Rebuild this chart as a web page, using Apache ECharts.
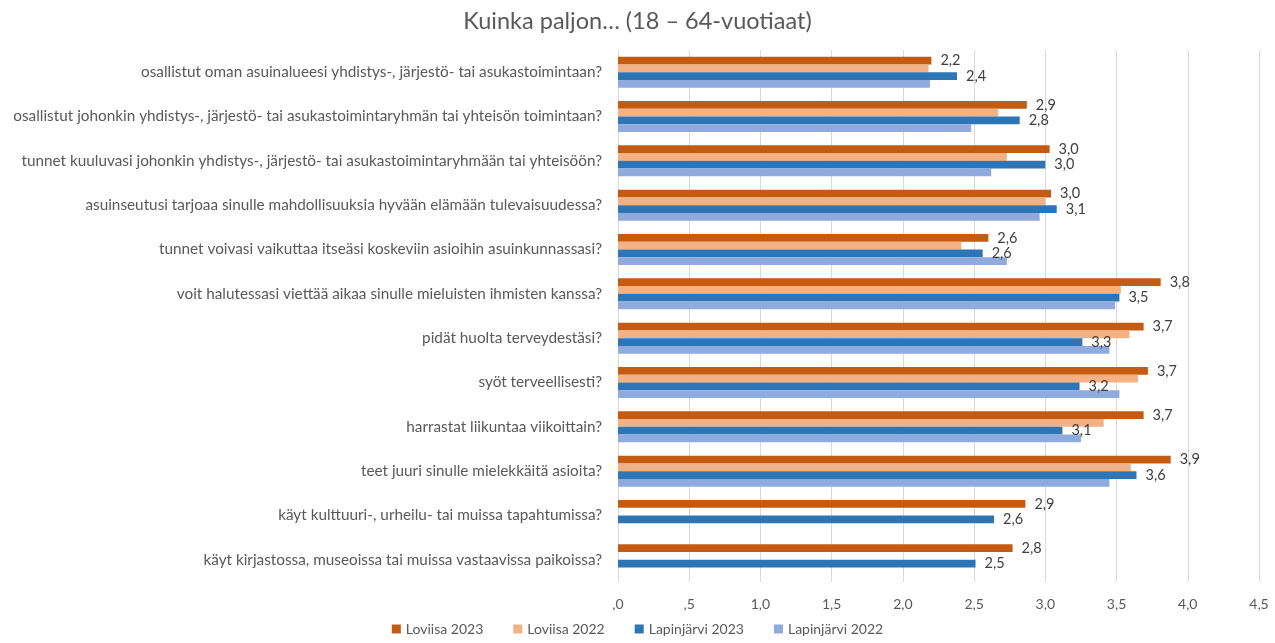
<!DOCTYPE html>
<html><head><meta charset="utf-8">
<script src="https://cdn.jsdelivr.net/npm/echarts@6/dist/echarts.min.js"></script>
<style>html,body{margin:0;padding:0;background:#fff}#c{width:1275px;height:643px}</style>
</head><body><div id="c"></div>
<script>
const categories = [
  "osallistut oman asuinalueesi yhdistys-, järjestö- tai asukastoimintaan?",
  "osallistut johonkin yhdistys-, järjestö- tai asukastoimintaryhmän tai yhteisön toimintaan?",
  "tunnet kuuluvasi johonkin yhdistys-, järjestö- tai asukastoimintaryhmään tai yhteisöön?",
  "asuinseutusi tarjoaa sinulle mahdollisuuksia hyvään elämään tulevaisuudessa?",
  "tunnet voivasi vaikuttaa itseäsi koskeviin asioihin asuinkunnassasi?",
  "voit halutessasi viettää aikaa sinulle mieluisten ihmisten kanssa?",
  "pidät huolta terveydestäsi?",
  "syöt terveellisesti?",
  "harrastat liikuntaa viikoittain?",
  "teet juuri sinulle mielekkäitä asioita?",
  "käyt kulttuuri-, urheilu- tai muissa tapahtumissa?",
  "käyt kirjastossa, museoissa tai muissa vastaavissa paikoissa?"
];
const seriesNames = ["Loviisa 2023", "Loviisa 2022", "Lapinjärvi 2023", "Lapinjärvi 2022"];
const loviisa2023 = [2.20, 2.87, 3.03, 3.04, 2.60, 3.81, 3.69, 3.72, 3.69, 3.88, 2.86, 2.77];
const loviisa2022 = [2.18, 2.67, 2.73, 3.00, 2.41, 3.53, 3.59, 3.65, 3.41, 3.60, null, null];
const lapinjarvi2023 = [2.38, 2.82, 3.00, 3.08, 2.56, 3.52, 3.26, 3.24, 3.12, 3.64, 2.64, 2.51];
const lapinjarvi2022 = [2.19, 2.48, 2.62, 2.96, 2.73, 3.49, 3.45, 3.52, 3.25, 3.45, null, null];
const xTickValues = [0, 0.5, 1, 1.5, 2, 2.5, 3, 3.5, 4, 4.5];

const colors = ["#C55A11", "#F4B183", "#2E75B6", "#8FAADC"];
const FONT = "Lato";
const fmt = v => v.toFixed(1).replace('.', ',');
const tickFmt = v => fmt(v).replace(/^0,/, ',');

const dataSets = [loviisa2023, loviisa2022, lapinjarvi2023, lapinjarvi2022];
const showLabel = [true, false, true, false];

const chart = echarts.init(document.getElementById('c'));
chart.setOption({
  animation: false,
  backgroundColor: '#fff',
  textStyle: { fontFamily: FONT },
  title: {
    text: "Kuinka paljon… (18 – 64-vuotiaat)",
    left: 'center', top: 4,
    textStyle: { fontFamily: FONT, fontSize: 23.5, fontWeight: 'normal', color: '#595959' }
  },
  legend: {
    bottom: 2, left: 'center',
    itemWidth: 9, itemHeight: 9, itemGap: 30,
    icon: 'rect',
    textStyle: { fontFamily: FONT, fontSize: 14, color: '#595959' },
    data: seriesNames
  },
  grid: { left: 618, right: 16, top: 50, bottom: 61, containLabel: false },
  xAxis: {
    type: 'value', min: 0, max: 4.5, interval: 0.5,
    axisLine: { show: false }, axisTick: { show: false },
    splitLine: { show: true, lineStyle: { color: '#D9D9D9', width: 1 } },
    axisLabel: { formatter: v => xTickValues.includes(v) ? tickFmt(v) : '', fontFamily: FONT, fontSize: 14, color: '#595959', margin: 15 }
  },
  yAxis: {
    type: 'category', data: categories, inverse: true,
    axisLine: { show: false }, axisTick: { show: false },
    splitLine: { show: false },
    axisLabel: { fontFamily: FONT, fontSize: 15.3, color: '#595959', margin: 16 }
  },
  series: dataSets.map((d, i) => ({
    name: seriesNames[i], type: 'bar', data: d,
    barGap: '0%', barCategoryGap: '30%',
    itemStyle: { color: colors[i] },
    label: {
      show: showLabel[i], position: 'right', distance: 9,
      formatter: p => p.value == null ? '' : fmt(p.value),
      fontFamily: FONT, fontSize: 14.5, color: '#404040'
    }
  }))
});
</script></body></html>
